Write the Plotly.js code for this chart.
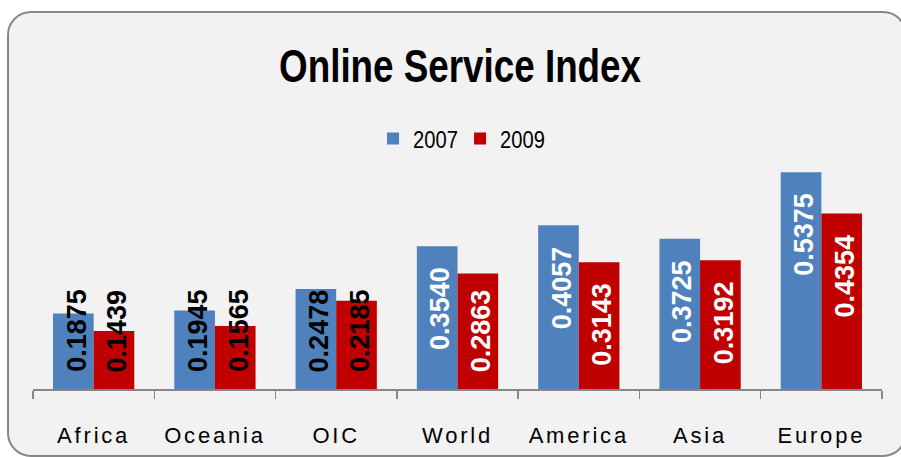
<!DOCTYPE html>
<html>
<head>
<meta charset="utf-8">
<script src="https://cdn.plot.ly/plotly-3.0.1.min.js"></script>
<style>
  html, body { margin: 0; padding: 0; background: #ffffff; }
  #frame {
    position: absolute; left: 7px; top: 11px; width: 896px; height: 442px;
    border: 2px solid #878787; border-radius: 24px; background: #F2F2F2;
  }
  #chart { position: absolute; left: 0; top: 0; width: 901px; height: 457px; }
  .xtick text { letter-spacing: 2.8px; }
  .gtitle { transform-box: fill-box; transform-origin: 50% 50%; transform: scaleX(0.8); }
  .legendtext { transform-box: fill-box; transform-origin: 0% 50%; transform: scaleX(0.84); }
</style>
</head>
<body>
<div id="frame"></div>
<div id="chart"></div>
<script>
// ---- data ----
const categories = ["Africa", "Oceania", "OIC", "World", "America", "Asia", "Europe"];
const years = ["2007", "2009"];
const values2007 = [0.1875, 0.1945, 0.2478, 0.3540, 0.4057, 0.3725, 0.5375];
const values2009 = [0.1439, 0.1565, 0.2185, 0.2863, 0.3143, 0.3192, 0.4354];

// ---- layout geometry ----
const W = 901, H = 457;
const M = { l: 33, r: 19, t: 147, b: 68, autoexpand: false };
const yMax = 0.6;
const bargap = 0.33;
const plotW = W - M.l - M.r, plotH = H - M.t - M.b;
const pxPerUnit = plotH / yMax;
const barHalf = (plotW / categories.length) * (1 - bargap) / 4;

const colors = ["#4F81BD", "#C00000"];
const series = [values2007, values2009];

const traces = series.map((vals, i) => ({
  type: "bar",
  name: years[i],
  x: categories,
  y: vals,
  marker: { color: colors[i], line: { width: 0 } },
  hoverinfo: "skip"
}));

const labelLen = 84, topPad = 20, basePad = 16;
const annotations = [];
series.forEach((vals, i) => {
  vals.forEach((v, j) => {
    const h = v * pxPerUnit;
    const atBase = (h - topPad - labelLen) < basePad;
    annotations.push({
      x: categories[j], xref: "x",
      y: atBase ? 0 : v, yref: "y",
      xshift: (i === 0 ? -1 : 1) * barHalf + 3,
      yshift: atBase ? basePad : -topPad,
      yanchor: atBase ? "bottom" : "top",
      xanchor: "center",
      textangle: -90,
      showarrow: false,
      text: v.toFixed(4),
      font: { family: "Liberation Sans, Arial, sans-serif", size: 27, weight: "bold",
              color: v < 0.25 ? "#000000" : "#ffffff" },
      borderpad: 0
    });
  });
});

const layout = {
  width: W, height: H,
  margin: M,
  paper_bgcolor: "rgba(0,0,0,0)",
  plot_bgcolor: "rgba(0,0,0,0)",
  barmode: "group",
  bargap: bargap,
  bargroupgap: 0,
  title: {
    text: "Online Service Index",
    font: { family: "Liberation Sans, Arial, sans-serif", size: 46, weight: "bold", color: "#000000" },
    x: 0.503, xref: "paper", xanchor: "center",
    y: 1 - 66 / H, yref: "container", yanchor: "middle"
  },
  showlegend: true,
  legend: {
    orientation: "h",
    x: 0.503, xref: "paper", xanchor: "center",
    y: 1 - 139 / H, yref: "container", yanchor: "middle",
    font: { family: "Liberation Sans, Arial, sans-serif", size: 24, color: "#000000" },
    bgcolor: "rgba(0,0,0,0)",
    entrywidth: 42,
    itemclick: false
  },
  xaxis: {
    type: "category",
    showline: true, linecolor: "#878787", linewidth: 2,
    ticks: "outside", tickson: "boundaries", ticklen: 8, tickwidth: 1.5, tickcolor: "#878787",
    tickfont: { family: "Liberation Sans, Arial, sans-serif", size: 22, color: "#000000" },
    ticklabelstandoff: 26,
    showgrid: false, zeroline: false, fixedrange: true
  },
  yaxis: {
    range: [0, yMax], visible: false, showgrid: false, zeroline: false, fixedrange: true
  },
  annotations: annotations
};

Plotly.newPlot("chart", traces, layout, { staticPlot: true, displayModeBar: false });
</script>
</body>
</html>
